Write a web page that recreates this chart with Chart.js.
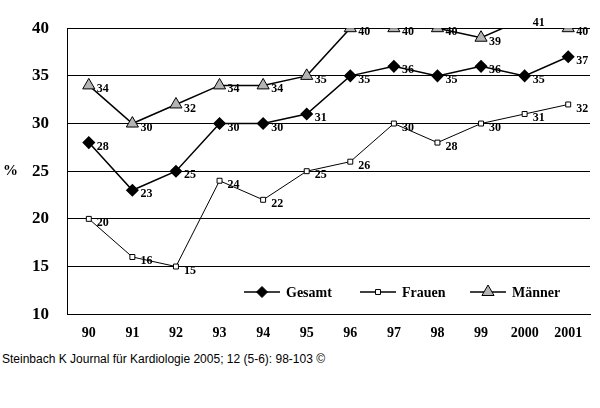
<!DOCTYPE html>
<html><head><meta charset="utf-8">
<script src="https://cdn.jsdelivr.net/npm/chart.js@4"></script>
<style>
body{margin:0;background:#fff;width:600px;height:408px;overflow:hidden}
#wrap{position:relative;width:600px;height:345px}
#foot{position:absolute;left:2px;top:352px;font:12px "Liberation Sans",Arial,sans-serif;color:#000}
</style></head><body>
<div id="wrap"><canvas id="c" width="600" height="345"></canvas></div>
<div id="foot">Steinbach K Journal für Kardiologie 2005; 12 (5-6): 98-103 ©</div>
<script>
const years = ['90','91','92','93','94','95','96','97','98','99','2000','2001'];
const gesamt = [28,23,25,30,30,31,35,36,35,36,35,37];
const frauen = [20,16,15,24,22,25,26,30,28,30,31,32];
const maenner = [34,30,32,34,34,35,40,40,40,39,41,40];
const yTicks = [10,15,20,25,30,35,40];

const serif = '"Liberation Serif","Times New Roman",serif';

const labelPlugin = {
  id: 'labels',
  afterDatasetsDraw(chart) {
    const ctx = chart.ctx;
    ctx.save();
    ctx.font = 'bold 12px ' + serif;
    ctx.fillStyle = '#000';
    ctx.textBaseline = 'middle';
    chart.data.datasets.forEach((ds, i) => {
      const meta = chart.getDatasetMeta(i);
      meta.data.forEach((p, j) => {
        const y = chart.scales.y.getPixelForValue(ds.data[j]);
        ctx.fillText(ds.data[j], p.x + 8, Math.max(y + 4, 10));
      });
    });
    // y title
    ctx.font = 'bold 15px ' + serif;
    ctx.fillText('%', 3, chart.scales.y.getPixelForValue(25));
    // legend
    const items = [['Gesamt', 0, 262], ['Frauen', 1, 378], ['Männer', 2, 488]];
    const ly = 292;
    ctx.font = 'bold 14px ' + serif;
    items.forEach(([t, i, x]) => {
      const ds = chart.data.datasets[i];
      ctx.strokeStyle = '#000'; ctx.lineWidth = 1.5;
      ctx.beginPath(); ctx.moveTo(x - 18, ly); ctx.lineTo(x + 18, ly); ctx.stroke();
      ctx.fillStyle = ds.pointBackgroundColor; ctx.lineWidth = 1;
      Chart.helpers.drawPoint(ctx, {pointStyle: ds.pointStyle, radius: ds.pointRadius, borderWidth: 1}, x, ly);
      ctx.fillStyle = '#000';
      ctx.fillText(t, x + 24, ly + 1);
    });
    ctx.restore();
  }
};

new Chart(document.getElementById('c'), {
  type: 'line',
  data: {
    labels: years,
    datasets: [
      {label: 'Gesamt', data: gesamt, borderColor: '#000', borderWidth: 1.5, pointStyle: 'rectRot', pointRadius: 5.5, pointBackgroundColor: '#000', pointBorderColor: '#000'},
      {label: 'Frauen', data: frauen, borderColor: '#000', borderWidth: 1, pointStyle: 'rect', pointRadius: 3.5, pointBackgroundColor: '#fff', pointBorderColor: '#000', pointBorderWidth: 1},
      {label: 'Männer', data: maenner, borderColor: '#000', borderWidth: 1.5, pointStyle: 'triangle', pointRadius: 7, pointBackgroundColor: '#b4b4b4', pointBorderColor: '#000', pointBorderWidth: 1}
    ]
  },
  options: {
    responsive: false, animation: false,
    layout: {padding: {top: 20, right: 10, left: 14}},
    plugins: {legend: {display: false}, tooltip: {enabled: false}},
    scales: {
      x: {
        offset: true,
        grid: {display: false},
        border: {color: '#000'},
        ticks: {color: '#000', font: {family: serif, size: 14, weight: 'bold'}}
      },
      y: {
        min: 10, max: 40,
        afterBuildTicks: s => { s.ticks = yTicks.map(v => ({value: v})); },
        grid: {color: '#000', drawTicks: false},
        border: {color: '#000'},
        ticks: {color: '#000', padding: 18, font: {family: serif, size: 17, weight: 'bold'}}
      }
    }
  },
  plugins: [labelPlugin]
});
</script>
</body></html>
